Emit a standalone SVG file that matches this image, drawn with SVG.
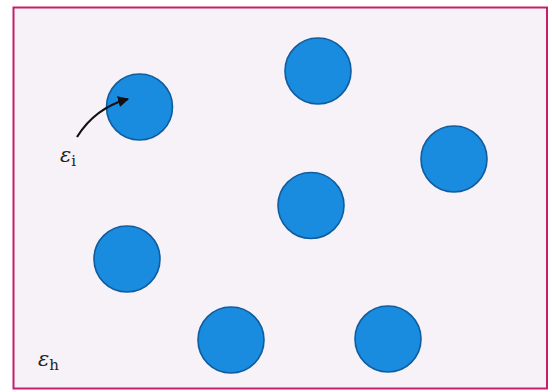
<svg xmlns="http://www.w3.org/2000/svg" width="552" height="392" viewBox="0 0 552 392">
<style>
.p{fill:#1a8ce0;stroke:#0f5c9e;stroke-width:1.6}
.t{font-family:"DejaVu Serif","Liberation Serif",serif;font-style:italic;font-size:21px;fill:#222}
.s{font-family:"DejaVu Serif","Liberation Serif",serif;font-size:15px;fill:#222}
</style>
<defs>
<marker id="ah" viewBox="0 0 10 10" refX="9" refY="5" markerWidth="5" markerHeight="5" orient="auto">
<path d="M0,0 L10,5 L0,10 z" fill="#111"/>
</marker>
</defs>
<rect x="0" y="0" width="552" height="392" fill="#ffffff"/>
<rect x="13.5" y="7.5" width="533.5" height="381" fill="#f7f2f7" stroke="#c2206c" stroke-width="2"/>
<g id="p1"><circle class="p" cx="139.5" cy="107" r="33"/></g>
<g id="p2"><circle class="p" cx="318" cy="71" r="33"/></g>
<g id="p3"><circle class="p" cx="454" cy="159" r="33"/></g>
<g id="p4"><circle class="p" cx="311" cy="205.5" r="33"/></g>
<g id="p5"><circle class="p" cx="127" cy="259" r="33"/></g>
<g id="p6"><circle class="p" cx="231" cy="340" r="33"/></g>
<g id="p7"><circle class="p" cx="388" cy="339" r="33"/></g>
<g id="connectors">
<path d="M77,137 Q95,108 128,99" fill="none" stroke="#111" stroke-width="2.2" marker-end="url(#ah)"/>
</g>
<g id="label-i"><text class="t" x="60" y="162">ε<tspan class="s" font-style="normal" dy="4">i</tspan></text></g>
<g id="label-h"><text class="t" x="38" y="366">ε<tspan class="s" font-style="normal" dy="4">h</tspan></text></g>
</svg>
